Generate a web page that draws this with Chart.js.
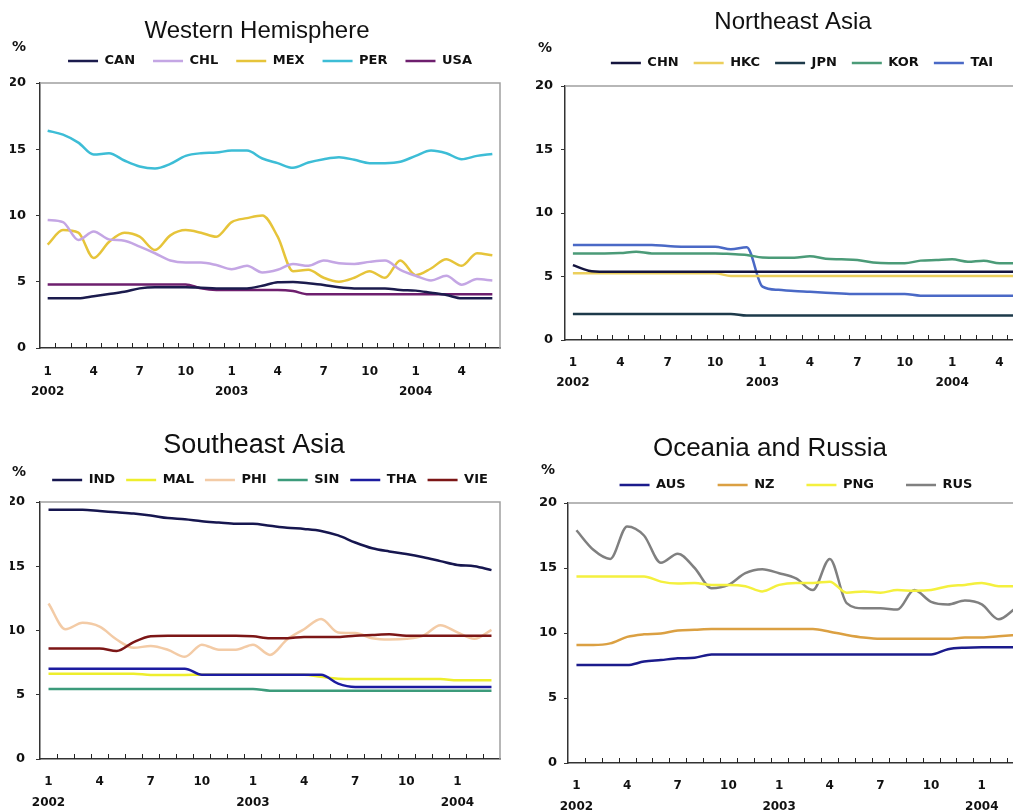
<!DOCTYPE html>
<html>
<head>
<meta charset="utf-8">
<title>Regional rates, 2002–2004</title>
<script src="https://cdn.jsdelivr.net/npm/chart.js@4.4.1/dist/chart.umd.min.js"></script>
<style>
  html, body { margin: 0; padding: 0; background: #fff; width: 1013px; height: 812px; overflow: hidden; }
  canvas { position: absolute; }
</style>
</head>
<body>
<canvas id="westChart" width="506" height="402" style="left:0;top:0"></canvas>
<canvas id="northeastChart" width="540" height="402" style="left:506px;top:0"></canvas>
<canvas id="southeastChart" width="506" height="406" style="left:0;top:406px"></canvas>
<canvas id="oceaniaChart" width="530" height="406" style="left:506px;top:406px"></canvas>

<script>
// ---- month axis: every third month labelled, year under each January ----
const monthTicks = [
  ['1', '2002'], '', '', '4', '', '', '7', '', '', '10', '', '',
  ['1', '2003'], '', '', '4', '', '', '7', '', '', '10', '', '',
  ['1', '2004'], '', '', '4', '', ''
];                                              // Jan 2002 - Jun 2004
const monthTicksShort = monthTicks.slice(0, 27); // Jan 2002 - Mar 2004

// ---- Western Hemisphere (%) ----
const CAN = [3.75, 3.75, 3.75, 3.9, 4.07, 4.25, 4.5, 4.58, 4.58, 4.58, 4.55, 4.5, 4.5, 4.5, 4.7,
             4.96, 4.99, 4.88, 4.75, 4.58, 4.5, 4.5, 4.5, 4.38, 4.33, 4.17, 4.0, 3.75, 3.75, 3.75];
const CHL = [9.66, 9.5, 8.15, 8.8, 8.2, 8.1, 7.65, 7.15, 6.6, 6.45, 6.45, 6.26, 5.95, 6.2, 5.7,
             5.9, 6.34, 6.2, 6.6, 6.4, 6.34, 6.5, 6.6, 5.9, 5.45, 5.1, 5.45, 4.78, 5.2, 5.1];
const MEX = [7.8, 8.9, 8.7, 6.8, 8.0, 8.7, 8.4, 7.4, 8.5, 8.9, 8.7, 8.4, 9.5, 9.8, 10.0,
             8.4, 5.8, 5.9, 5.3, 5.0, 5.3, 5.8, 5.3, 6.6, 5.5, 6.0, 6.7, 6.2, 7.15, 7.0];
const PER = [16.4, 16.1, 15.5, 14.6, 14.7, 14.15, 13.7, 13.55, 13.9, 14.5, 14.7, 14.75, 14.9, 14.9, 14.3,
             13.95, 13.6, 14.0, 14.25, 14.4, 14.2, 13.95, 13.95, 14.05, 14.5, 14.9, 14.7, 14.25, 14.5, 14.65];
const USA = [4.8, 4.8, 4.8, 4.8, 4.8, 4.8, 4.8, 4.8, 4.8, 4.8, 4.5, 4.38, 4.38, 4.38, 4.38,
             4.38, 4.3, 4.05, 4.05, 4.05, 4.05, 4.05, 4.05, 4.05, 4.05, 4.05, 4.05, 4.05, 4.05, 4.05];

// ---- Northeast Asia (%) ----
const CHN = [5.9, 5.46, 5.38, 5.38, 5.38, 5.38, 5.38, 5.38, 5.38, 5.38, 5.38, 5.38, 5.38, 5.38, 5.38,
             5.38, 5.38, 5.38, 5.38, 5.38, 5.38, 5.38, 5.38, 5.38, 5.38, 5.38, 5.38, 5.38, 5.38, 5.38];
const HKC = [5.25, 5.25, 5.25, 5.25, 5.25, 5.25, 5.25, 5.25, 5.25, 5.25, 5.04, 5.04, 5.04, 5.04, 5.04,
             5.04, 5.04, 5.04, 5.04, 5.04, 5.04, 5.04, 5.04, 5.04, 5.04, 5.04, 5.04, 5.04, 5.04, 5.04];
const JPN = [2.05, 2.05, 2.05, 2.05, 2.05, 2.05, 2.05, 2.05, 2.05, 2.05, 2.05, 1.92, 1.92, 1.92, 1.92,
             1.92, 1.92, 1.92, 1.92, 1.92, 1.92, 1.92, 1.92, 1.92, 1.92, 1.92, 1.92, 1.92, 1.92, 1.92];
const KOR = [6.82, 6.82, 6.82, 6.85, 6.95, 6.82, 6.82, 6.82, 6.82, 6.82, 6.77, 6.7, 6.5, 6.48, 6.48,
             6.6, 6.4, 6.35, 6.3, 6.1, 6.04, 6.04, 6.25, 6.3, 6.35, 6.17, 6.25, 6.04, 6.04, 6.04];
const TAI = [7.48, 7.48, 7.48, 7.48, 7.48, 7.48, 7.4, 7.35, 7.35, 7.35, 7.14, 7.3, 4.2, 3.95, 3.86,
             3.8, 3.73, 3.67, 3.62, 3.62, 3.62, 3.62, 3.49, 3.49, 3.49, 3.49, 3.49, 3.49, 3.49, 3.49];

// ---- Southeast Asia (%) ----
const IND = [19.4, 19.4, 19.4, 19.3, 19.2, 19.1, 18.95, 18.75, 18.65, 18.5, 18.4, 18.3, 18.3, 18.15,
             18.0, 17.9, 17.75, 17.4, 16.85, 16.4, 16.15, 15.95, 15.7, 15.4, 15.1, 15.0, 14.7];
const MAL = [6.64, 6.64, 6.64, 6.64, 6.64, 6.64, 6.54, 6.54, 6.54, 6.56, 6.56, 6.56, 6.56, 6.56,
             6.56, 6.56, 6.4, 6.25, 6.23, 6.23, 6.23, 6.23, 6.23, 6.23, 6.12, 6.12, 6.12];
const PHI = [12.1, 10.1, 10.6, 10.3, 9.3, 8.65, 8.8, 8.5, 7.95, 8.9, 8.5, 8.5, 8.9, 8.1,
             9.3, 10.1, 10.9, 9.85, 9.8, 9.4, 9.3, 9.35, 9.6, 10.4, 9.85, 9.35, 10.05];
const SIN = [5.45, 5.45, 5.45, 5.45, 5.45, 5.45, 5.45, 5.45, 5.45, 5.45, 5.45, 5.45, 5.45, 5.32,
             5.32, 5.32, 5.32, 5.32, 5.32, 5.32, 5.32, 5.32, 5.32, 5.32, 5.32, 5.32, 5.32];
const THA = [7.03, 7.03, 7.03, 7.03, 7.03, 7.03, 7.03, 7.03, 7.03, 6.56, 6.56, 6.56, 6.56, 6.56,
             6.56, 6.56, 6.56, 5.86, 5.6, 5.6, 5.6, 5.6, 5.6, 5.6, 5.6, 5.6, 5.6];
const VIE = [8.6, 8.6, 8.6, 8.6, 8.4, 9.1, 9.55, 9.6, 9.6, 9.6, 9.6, 9.6, 9.55, 9.4,
             9.4, 9.5, 9.5, 9.5, 9.6, 9.65, 9.7, 9.6, 9.6, 9.6, 9.6, 9.6, 9.6];

// ---- Oceania and Russia (%) ----
const AUS = [7.53, 7.53, 7.53, 7.53, 7.8, 7.92, 8.05, 8.1, 8.35, 8.35, 8.35, 8.35, 8.35, 8.35,
             8.35, 8.35, 8.35, 8.35, 8.35, 8.35, 8.35, 8.35, 8.75, 8.87, 8.9, 8.9, 8.9];
const NZ  = [9.07, 9.07, 9.2, 9.7, 9.9, 9.97, 10.2, 10.25, 10.3, 10.3, 10.3, 10.3, 10.3, 10.3,
             10.3, 10.1, 9.85, 9.65, 9.55, 9.55, 9.55, 9.55, 9.55, 9.65, 9.65, 9.75, 9.85];
const PNG = [14.35, 14.35, 14.35, 14.35, 14.35, 13.95, 13.8, 13.85, 13.7, 13.7, 13.6, 13.2, 13.7, 13.85,
             13.85, 13.95, 13.1, 13.2, 13.1, 13.3, 13.25, 13.3, 13.6, 13.7, 13.85, 13.6, 13.6];
const RUS = [17.9, 16.4, 15.7, 18.2, 17.5, 15.4, 16.1, 15.0, 13.45, 13.7, 14.6, 14.9, 14.6, 14.2,
             13.3, 15.7, 12.3, 11.9, 11.9, 11.8, 13.3, 12.4, 12.2, 12.5, 12.2, 11.05, 11.9];

// ---- panel layout and styling ----
const PANELS = [
  {
    canvas: 'westChart', labels: monthTicks,
    title: 'Western Hemisphere', titleSize: 24, titleX: 257, titleY: 38, pctX: 19, pctY: 47,
    series: [['CAN', CAN, '#1b1b4d'], ['CHL', CHL, '#c4a6e4'], ['MEX', MEX, '#e6c43a'],
             ['PER', PER, '#3dbdd6'], ['USA', USA, '#6e1f6e']],
    padding: { left: 10, right: 6, top: 36.5, bottom: 4 },
    legendPad: 18, legendGap: 5.5, xHeight: 50, xPad: 14, xLine: 1.67, yPad: 10,
  },
  {
    canvas: 'northeastChart', labels: monthTicks,
    title: 'Northeast Asia', titleSize: 24, titleX: 287, titleY: 29, pctX: 39, pctY: 48,
    series: [['CHN', CHN, '#15153f'], ['HKC', HKC, '#eccf5c'], ['JPN', JPN, '#1d3a4a'],
             ['KOR', KOR, '#4b9b78'], ['TAI', TAI, '#4a69c6']],
    padding: { left: 29, right: 7, top: 41.5, bottom: 12 },
    legendPad: 15, legendGap: 6.5, xHeight: 50, xPad: 13, xLine: 1.67, yPad: 8,
  },
  {
    canvas: 'southeastChart', labels: monthTicksShort,
    title: 'Southeast Asia', titleSize: 27, titleX: 254, titleY: 46.5, pctX: 19, pctY: 66,
    series: [['IND', IND, '#16164f'], ['MAL', MAL, '#eeee2c'], ['PHI', PHI, '#f3cba6'],
             ['SIN', SIN, '#3c9b7b'], ['THA', THA, '#1c1ca0'], ['VIE', VIE, '#7c1616']],
    order: [2, 4, 5, 3, 0, 1],
    padding: { left: 10, right: 6, top: 56.5, bottom: 3 },
    legendPad: 11, legendGap: 5.5, xHeight: 50, xPad: 12.5, xLine: 1.75, yPad: 11,
  },
  {
    canvas: 'oceaniaChart', labels: monthTicksShort,
    title: 'Oceania and Russia', titleSize: 26, titleX: 264, titleY: 50, pctX: 42, pctY: 64.5,
    series: [['AUS', AUS, '#1b1b8c'], ['NZ', NZ, '#dba042'], ['PNG', PNG, '#f4f03e'],
             ['RUS', RUS, '#808080']],
    padding: { left: 32, right: 12, top: 40.5, bottom: 1 },
    legendPad: 32, legendGap: 1.5, xHeight: 48, xPad: 12.5, xLine: 1.75, yPad: 7,
  },
];

const AXIS_FONT = "'DejaVu Sans', sans-serif";

// extra space between the legend row and the plot
const legendGap = {
  id: 'legendGap',
  beforeInit(chart) {
    const legend = chart.legend;
    const fit = legend.fit;
    legend.fit = function () {
      fit.call(this);
      this.height += (chart.options.plugins.legendGap || {}).gap || 0;
    };
  },
};

// light frame on top/right of the plot and short inward month ticks
const panelFrame = {
  id: 'panelFrame',
  beforeDatasetsDraw(chart) {
    const { ctx, chartArea: a, scales: { x } } = chart;
    ctx.save();
    ctx.strokeStyle = '#a0a0a0';
    ctx.lineWidth = 1.5;
    ctx.beginPath();
    ctx.moveTo(a.left, a.top);
    ctx.lineTo(a.right, a.top);
    ctx.lineTo(a.right, a.bottom);
    ctx.stroke();

    ctx.strokeStyle = '#222';
    ctx.lineWidth = 1;
    ctx.beginPath();
    const n = chart.data.labels.length;
    for (let i = 1; i < n; i++) {
      const px = Math.round((x.getPixelForValue(i - 1) + x.getPixelForValue(i)) / 2) + 0.5;
      ctx.moveTo(px, a.bottom);
      ctx.lineTo(px, a.bottom - 5);
    }
    ctx.stroke();
    ctx.restore();
  },
};

// panel heading and the unit mark above the value axis
const panelText = {
  id: 'panelText',
  afterDraw(chart, args, o) {
    const { ctx } = chart;
    ctx.save();
    ctx.fillStyle = '#111';
    ctx.textAlign = 'center';
    ctx.textBaseline = 'alphabetic';
    ctx.font = `${o.titleSize}px 'Liberation Sans', Arial, sans-serif`;
    ctx.fillText(o.title, o.titleX, o.titleY);
    ctx.textBaseline = 'middle';
    ctx.font = `bold 14px ${AXIS_FONT}`;
    ctx.fillText('%', o.pctX, o.pctY);
    ctx.restore();
  },
};

function buildPanel(p) {
  const ctx = document.getElementById(p.canvas);
  if (!ctx) return null;

  return new Chart(ctx, {
    type: 'line',
    data: {
      labels: p.labels,
      datasets: p.series.map(([label, data, color], i) => ({
        label,
        data,
        borderColor: color,
        backgroundColor: color,
        borderWidth: 2.5,
        pointRadius: 0,
        fill: false,
        cubicInterpolationMode: 'monotone',
        order: p.order ? p.order[i] : i,
      })),
    },
    options: {
      responsive: false,
      animation: false,
      events: [],
      layout: { padding: p.padding },
      plugins: {
        tooltip: { enabled: false },
        legend: {
          position: 'top',
          fullSize: false,
          labels: {
            usePointStyle: true,
            pointStyle: 'line',
            pointStyleWidth: 30,
            padding: p.legendPad,
            color: '#111',
            font: { family: AXIS_FONT, weight: 'bold', size: 13 },
            sort: (a, b) => a.datasetIndex - b.datasetIndex,
          },
        },
        legendGap: { gap: p.legendGap },
        panelText: {
          title: p.title, titleSize: p.titleSize, titleX: p.titleX, titleY: p.titleY,
          pctX: p.pctX, pctY: p.pctY,
        },
      },
      scales: {
        x: {
          type: 'category',
          offset: true,
          grid: {
            display: true,
            drawOnChartArea: false,
            drawTicks: true,
            tickLength: p.xPad,
            color: 'rgba(0,0,0,0)',
          },
          border: { display: true, color: '#333', width: 1.5 },
          ticks: {
            autoSkip: false,
            maxRotation: 0,
            minRotation: 0,
            padding: 0,
            color: '#111',
            font: { family: AXIS_FONT, weight: 'bold', size: 12, lineHeight: p.xLine },
          },
          afterFit: s => { s.height = p.xHeight; },
        },
        y: {
          min: 0,
          max: 20,
          ticks: {
            stepSize: 5,
            padding: p.yPad,
            color: '#111',
            font: { family: AXIS_FONT, weight: 'bold', size: 13 },
          },
          grid: { drawOnChartArea: false, drawTicks: true, tickLength: 4, color: '#333' },
          border: { display: true, color: '#333', width: 1.5 },
          afterFit: s => { s.width = 30; },
        },
      },
    },
    plugins: [legendGap, panelFrame, panelText],
  });
}

PANELS.forEach(buildPanel);
</script>
</body>
</html>
